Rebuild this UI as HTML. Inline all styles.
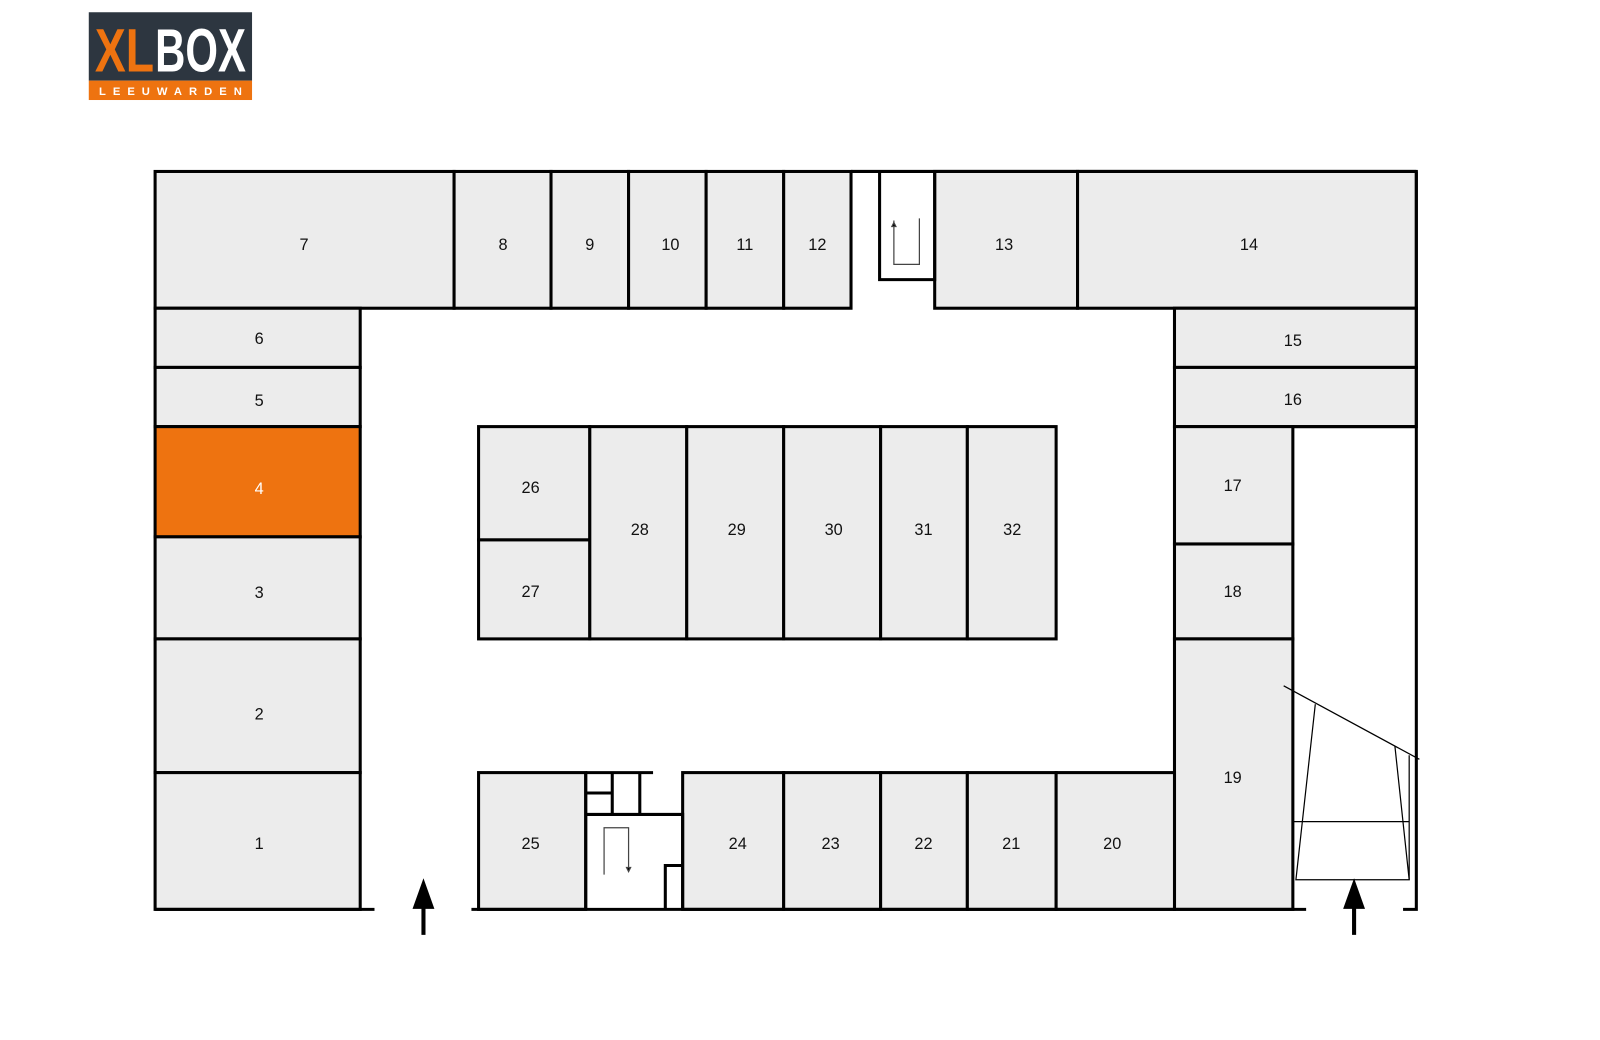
<!DOCTYPE html>
<html><head><meta charset="utf-8">
<style>
html,body{margin:0;padding:0;background:#fff;}
svg{display:block;}
text{font-family:"Liberation Sans",sans-serif;}
</style></head>
<body>
<svg width="1600" height="1040" viewBox="0 0 1568 1019" preserveAspectRatio="none" xmlns="http://www.w3.org/2000/svg">
<!-- logo -->
<rect x="87" y="12" width="160" height="67" fill="#2d3640"/>
<rect x="87" y="79" width="160" height="19" fill="#ee7310"/>
<text x="93" y="70" font-size="60" font-weight="bold" fill="#ee7310" textLength="58" lengthAdjust="spacingAndGlyphs">XL</text>
<text x="152" y="70" font-size="60" font-weight="bold" fill="#fff" textLength="89" lengthAdjust="spacingAndGlyphs">BOX</text>
<text x="97" y="93" font-size="11" font-weight="bold" fill="#fff" textLength="140" lengthAdjust="spacing">LEEUWARDEN</text>

<g stroke="#000" stroke-width="3" fill="#ececec">
<rect x="152" y="168" width="293" height="134"/>
<rect x="445" y="168" width="95" height="134"/>
<rect x="540" y="168" width="76" height="134"/>
<rect x="616" y="168" width="76" height="134"/>
<rect x="692" y="168" width="76" height="134"/>
<rect x="768" y="168" width="66" height="134"/>
<rect x="916" y="168" width="140" height="134"/>
<rect x="1056" y="168" width="332" height="134"/>
<rect x="152" y="302" width="201" height="58"/>
<rect x="152" y="360" width="201" height="58"/>
<rect x="152" y="418" width="201" height="108" fill="#ee7310"/>
<rect x="152" y="526" width="201" height="100"/>
<rect x="152" y="626" width="201" height="131"/>
<rect x="152" y="757" width="201" height="134"/>
<rect x="1151" y="302" width="237" height="58"/>
<rect x="1151" y="360" width="237" height="58"/>
<rect x="1151" y="418" width="116" height="115"/>
<rect x="1151" y="533" width="116" height="93"/>
<rect x="1151" y="626" width="116" height="265"/>
<rect x="469" y="418" width="109" height="111"/>
<rect x="469" y="529" width="109" height="97"/>
<rect x="578" y="418" width="95" height="208"/>
<rect x="673" y="418" width="95" height="208"/>
<rect x="768" y="418" width="95" height="208"/>
<rect x="863" y="418" width="85" height="208"/>
<rect x="948" y="418" width="87" height="208"/>
<rect x="469" y="757" width="105" height="134"/>
<rect x="669" y="757" width="99" height="134"/>
<rect x="768" y="757" width="95" height="134"/>
<rect x="863" y="757" width="85" height="134"/>
<rect x="948" y="757" width="87" height="134"/>
<rect x="1035" y="757" width="116" height="134"/>
</g>
<g stroke="#000" stroke-width="3" fill="none">
<path d="M834 168 H1388 M862 168 V274 H916 V168"/>
<path d="M1388 168 V891 H1375"/>
<path d="M1267 418 H1388"/>
<path d="M152 891 H367 M462 891 H1280"/>
<path d="M574 757 H640 M574 757 V891 M574 798 H669 V891 M600 757 V798 M627 757 V798 M574 777 H600 M652 891 V848 H669"/>
</g>
<g stroke="#444" stroke-width="1.2" fill="none">
<path d="M876 216 V259 H901 V214"/>
<path d="M876 218 l-2 4 h4 z" fill="#000"/>
<path d="M592 857 V811 H616 V852"/>
<path d="M616 854 l-2 -4 h4 z" fill="#000"/>
</g>
<g stroke="#000" stroke-width="1.2" fill="none">
<path d="M1258 672 L1391 744"/>
<path d="M1289 690 L1270 862 H1381 L1367 731"/>
<path d="M1267 805 H1381 M1381 740 V862"/>
</g>
<g fill="#000" stroke="#000">
<path d="M415 916 V885" stroke-width="4"/>
<path d="M405 890 L415 862 L425 890 Z"/>
<path d="M1327 916 V885" stroke-width="4"/>
<path d="M1317 890 L1327 862 L1337 890 Z"/>
</g>
<g font-size="16" fill="#111" text-anchor="middle">
<text x="298" y="245">7</text>
<text x="493" y="245">8</text>
<text x="578" y="245">9</text>
<text x="657" y="245">10</text>
<text x="730" y="245">11</text>
<text x="801" y="245">12</text>
<text x="984" y="245">13</text>
<text x="1224" y="245">14</text>
<text x="254" y="337">6</text>
<text x="254" y="398">5</text>
<text x="254" y="484" fill="#fff">4</text>
<text x="254" y="586">3</text>
<text x="254" y="705">2</text>
<text x="254" y="832">1</text>
<text x="1267" y="339">15</text>
<text x="1267" y="397">16</text>
<text x="1208" y="481">17</text>
<text x="1208" y="585">18</text>
<text x="1208" y="767">19</text>
<text x="520" y="483">26</text>
<text x="520" y="585">27</text>
<text x="627" y="524">28</text>
<text x="722" y="524">29</text>
<text x="817" y="524">30</text>
<text x="905" y="524">31</text>
<text x="992" y="524">32</text>
<text x="520" y="832">25</text>
<text x="723" y="832">24</text>
<text x="814" y="832">23</text>
<text x="905" y="832">22</text>
<text x="991" y="832">21</text>
<text x="1090" y="832">20</text>
</g>
</svg>
</body></html>
